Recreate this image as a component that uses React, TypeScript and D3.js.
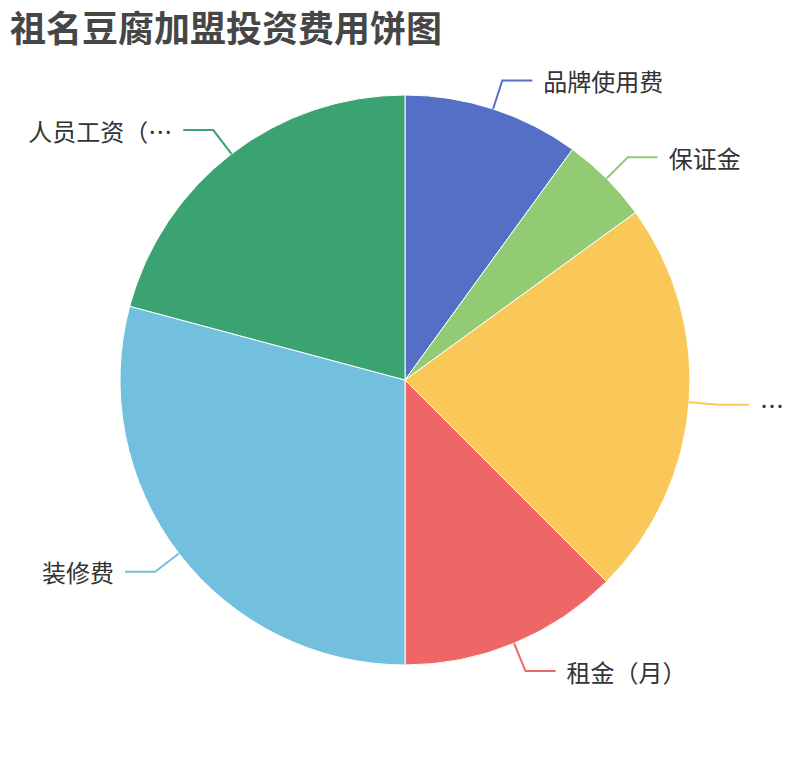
import React from "react";
import * as d3 from "d3";

const title = "祖名豆腐加盟投资费用饼图";
const categories = ["品牌使用费", "保证金", "…", "租金（月）", "装修费", "人员工资（…"];
const values = [12, 6, 27, 15, 35, 25];
const colors = ["#5470c6", "#91cc75", "#fac858", "#ee6666", "#73c0de", "#3ba272"];

const W = 810;
const H = 760;
const cx = 405;
const cy = 380;
const R = 285;
const len1 = 30;
const len2 = 30;
const gap = 11;

export default function App() {
  const rows = categories.map((c, i) => ({ name: c, value: values[i], color: colors[i] }));
  const pie = d3.pie<any>().sort(null).value((d: any) => d.value);
  const arcs = pie(rows);
  const arcGen = d3.arc<any>().innerRadius(0).outerRadius(R);
  const font = "'Noto Sans CJK SC', 'Noto Sans', sans-serif";

  return (
    <svg width={W} height={H} style={{ position: "absolute", left: 0, top: 0 }}>
      <rect width={W} height={H} fill="#fff" />
      <text x={10} y={26} dominantBaseline="central" fontSize={36} fontWeight="bold" fill="#464646" fontFamily={font}>
        {title}
      </text>
      <g transform={`translate(${cx},${cy})`}>
        {arcs.map((a: any, i: number) => (
          <path key={i} d={arcGen(a) as string} fill={a.data.color} stroke="#fff" strokeWidth={1} strokeLinejoin="round" />
        ))}
        {arcs.map((a: any, i: number) => {
          const mid = (a.startAngle + a.endAngle) / 2;
          const sx = Math.sin(mid), sy = -Math.cos(mid);
          const p0 = [R * sx, R * sy];
          const p1 = [(R + len1) * sx, (R + len1) * sy];
          const right = sx >= 0;
          const p2 = [p1[0] + (right ? len2 : -len2), p1[1]];
          const tx = p2[0] + (right ? gap : -gap);
          return (
            <g key={"l" + i}>
              <polyline
                points={`${p0[0]},${p0[1]} ${p1[0]},${p1[1]} ${p2[0]},${p2[1]}`}
                fill="none"
                stroke={a.data.color}
                strokeWidth={2}
              />
              <text
                x={tx}
                y={p2[1]}
                dominantBaseline="central"
                textAnchor={right ? "start" : "end"}
                fontSize={24}
                fill="#333"
                fontFamily={font}
              >
                {a.data.name}
              </text>
            </g>
          );
        })}
      </g>
    </svg>
  );
}
